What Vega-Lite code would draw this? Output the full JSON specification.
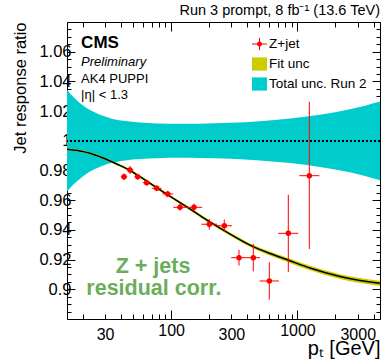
{
  "$schema": "https://vega.github.io/schema/vega-lite/v6.json",
  "width": 313,
  "height": 297,
  "autosize": {"type": "none"},
  "padding": {"left": 67, "top": 22, "right": 2, "bottom": 44},
  "background": "white",
  "config": {
    "font": "Liberation Sans",
    "view": {"stroke": null},
    "axis": {"grid": false, "domainColor": "black", "domainWidth": 1, "tickColor": "black", "tickWidth": 1, "labelColor": "black", "titleColor": "black", "labelFont": "Liberation Sans", "titleFont": "Liberation Sans", "zindex": 1},
    "legend": {"orient": "none", "padding": 0, "rowPadding": 5, "labelOffset": 2, "labelFontSize": 13.5, "labelFont": "Liberation Sans", "labelColor": "black", "labelLimit": 0, "symbolSize": 225, "symbolOpacity": 1}
  },
  "title": {"text": "Run 3 prompt, 8 fb⁻¹ (13.6 TeV)", "anchor": "end", "frame": "group", "fontSize": 14.5, "fontWeight": "normal", "font": "Liberation Sans", "color": "black", "baseline": "alphabetic", "offset": 9, "dy": 24},
  "datasets": {
    "band": [
      {"pt": 15, "lo": 0.9657, "hi": 1.0343},
      {"pt": 16.4, "lo": 0.9695, "hi": 1.0305},
      {"pt": 18, "lo": 0.9728, "hi": 1.0272},
      {"pt": 20.1, "lo": 0.9762, "hi": 1.0238},
      {"pt": 22.8, "lo": 0.9793, "hi": 1.0207},
      {"pt": 27.4, "lo": 0.9825, "hi": 1.0175},
      {"pt": 32.9, "lo": 0.9848, "hi": 1.0152},
      {"pt": 43.2, "lo": 0.9867, "hi": 1.0133},
      {"pt": 56.7, "lo": 0.9877, "hi": 1.0123},
      {"pt": 77.3, "lo": 0.9883, "hi": 1.0117},
      {"pt": 117.6, "lo": 0.9886, "hi": 1.0114},
      {"pt": 169.3, "lo": 0.9885, "hi": 1.0115},
      {"pt": 292.6, "lo": 0.9879, "hi": 1.0121},
      {"pt": 505, "lo": 0.9868, "hi": 1.0132},
      {"pt": 873, "lo": 0.985, "hi": 1.015},
      {"pt": 1508, "lo": 0.9824, "hi": 1.0176},
      {"pt": 2605, "lo": 0.9788, "hi": 1.0212},
      {"pt": 4500, "lo": 0.9735, "hi": 1.0265}
    ],
    "fit": [
      {"pt": 15, "y": 0.9943, "lo": 0.9936, "hi": 0.995},
      {"pt": 19, "y": 0.9931, "lo": 0.9924, "hi": 0.9938},
      {"pt": 22.8, "y": 0.9916, "lo": 0.9909, "hi": 0.9923},
      {"pt": 27.4, "y": 0.9893, "lo": 0.9886, "hi": 0.99},
      {"pt": 37.1, "y": 0.9844, "lo": 0.9836, "hi": 0.9852},
      {"pt": 47.3, "y": 0.98, "lo": 0.9792, "hi": 0.9808},
      {"pt": 56.7, "y": 0.9758, "lo": 0.975, "hi": 0.9766},
      {"pt": 74.6, "y": 0.9692, "lo": 0.9683, "hi": 0.9701},
      {"pt": 104, "y": 0.9613, "lo": 0.9604, "hi": 0.9622},
      {"pt": 141, "y": 0.9541, "lo": 0.9531, "hi": 0.9551},
      {"pt": 191, "y": 0.9467, "lo": 0.9457, "hi": 0.9477},
      {"pt": 293, "y": 0.9372, "lo": 0.9361, "hi": 0.9383},
      {"pt": 447, "y": 0.9287, "lo": 0.9275, "hi": 0.9299},
      {"pt": 606, "y": 0.9241, "lo": 0.9228, "hi": 0.9254},
      {"pt": 842, "y": 0.9197, "lo": 0.9183, "hi": 0.9211},
      {"pt": 1257, "y": 0.9143, "lo": 0.9128, "hi": 0.9158},
      {"pt": 2171, "y": 0.9086, "lo": 0.907, "hi": 0.9102},
      {"pt": 3125, "y": 0.9059, "lo": 0.9042, "hi": 0.9076},
      {"pt": 4500, "y": 0.904, "lo": 0.9022, "hi": 0.9058}
    ],
    "points": [
      {"pt": 42.4, "y": 0.9758, "xlo": 40, "xhi": 45, "ylo": 0.9736, "yhi": 0.978},
      {"pt": 47.3, "y": 0.9803, "xlo": 44.8, "xhi": 50.2, "ylo": 0.9776, "yhi": 0.983},
      {"pt": 54.4, "y": 0.9758, "xlo": 51.2, "xhi": 57.8, "ylo": 0.9738, "yhi": 0.9778},
      {"pt": 64.1, "y": 0.9718, "xlo": 59.6, "xhi": 68.9, "ylo": 0.9698, "yhi": 0.9738},
      {"pt": 76.9, "y": 0.968, "xlo": 70.2, "xhi": 84.2, "ylo": 0.9661, "yhi": 0.9699},
      {"pt": 94, "y": 0.9642, "xlo": 85.1, "xhi": 103.9, "ylo": 0.962, "yhi": 0.9664},
      {"pt": 117.6, "y": 0.9552, "xlo": 104, "xhi": 133, "ylo": 0.953, "yhi": 0.9574},
      {"pt": 151.8, "y": 0.9552, "xlo": 131, "xhi": 176, "ylo": 0.9527, "yhi": 0.9577},
      {"pt": 200.6, "y": 0.9438, "xlo": 174, "xhi": 231, "ylo": 0.9402, "yhi": 0.9474},
      {"pt": 263.6, "y": 0.9428, "xlo": 229, "xhi": 303, "ylo": 0.9386, "yhi": 0.947},
      {"pt": 344.7, "y": 0.9213, "xlo": 299, "xhi": 398, "ylo": 0.916, "yhi": 0.9266},
      {"pt": 447.2, "y": 0.9213, "xlo": 396, "xhi": 505, "ylo": 0.9121, "yhi": 0.9305},
      {"pt": 598.7, "y": 0.9056, "xlo": 502, "xhi": 714, "ylo": 0.893, "yhi": 0.9182},
      {"pt": 846.4, "y": 0.9377, "xlo": 705, "xhi": 1016, "ylo": 0.9117, "yhi": 0.9637},
      {"pt": 1240.7, "y": 0.9765, "xlo": 1034, "xhi": 1489, "ylo": 0.9271, "yhi": 1.0263}
    ],
    "notes": [
      {"t": "CMS"}, {"t": "Preliminary"}, {"t": "AK4 PUPPI"}, {"t": "|η| < 1.3"}, {"t": "Z + jets"}, {"t": "residual corr."}
    ]
  },
  "resolve": {"axis": {"x": "independent", "y": "independent"}},
  "layer": [
    {
      "data": {"name": "band"},
      "mark": {"type": "area", "interpolate": "monotone", "opacity": 1},
      "encoding": {
        "x": {"field": "pt", "type": "quantitative",
          "scale": {"type": "log", "domain": [15, 4500], "nice": false},
          "axis": {"orient": "bottom", "values": [20,30,40,50,60,70,80,90,100,200,300,400,500,600,700,800,900,1000,2000,3000,4000],
            "tickSize": {"condition": {"test": "datum.value == 100 || datum.value == 1000", "value": -9}, "value": -5},
            "labelExpr": "indexof([30,100,300,1000,3000], datum.value) >= 0 ? format(datum.value, 'd') : ''",
            "labelFontSize": 16, "labelPadding": 12, "labelOverlap": false, "labelFlush": false, "labelBound": false,
            "title": "pₜ [GeV]", "titleFontSize": 20, "titleFontWeight": "normal", "titleAnchor": "end", "titleAlign": "right", "titleBaseline": "alphabetic", "titleX": 313, "titleY": 35}},
        "y": {"field": "lo", "type": "quantitative",
          "scale": {"domain": [0.88, 1.08], "nice": false, "zero": false},
          "axis": {"orient": "left", "values": [0.88,0.885,0.89,0.895,0.9,0.905,0.91,0.915,0.92,0.925,0.93,0.935,0.94,0.945,0.95,0.955,0.96,0.965,0.97,0.975,0.98,0.985,0.99,0.995,1.0,1.005,1.01,1.015,1.02,1.025,1.03,1.035,1.04,1.045,1.05,1.055,1.06,1.065,1.07,1.075,1.08],
            "tickSize": {"condition": {"test": "abs(datum.value*50 - round(datum.value*50)) < 0.0001", "value": -8}, "value": -4},
            "labelExpr": "abs(datum.value*50 - round(datum.value*50)) < 0.0001 && datum.value > 0.89 && datum.value < 1.07 ? format(datum.value, '.2~f') : ''",
            "labelFontSize": 16.5, "labelPadding": 4, "labelOverlap": false, "labelFlush": false, "labelBound": false,
            "title": "Jet response ratio", "titleFontSize": 16.5, "titleFontWeight": "normal", "titleAngle": 270, "titleAlign": "right", "titleBaseline": "alphabetic", "titleX": -41.5, "titleY": 0}},
        "y2": {"field": "hi"},
        "color": {"datum": "Total unc. Run 2", "type": "nominal",
          "scale": {"domain": ["Fit unc", "Total unc. Run 2"], "range": ["#cccc00", "#00cccc"]},
          "legend": {"title": null, "legendX": 185, "legendY": 34.5, "symbolType": "M-1,-0.88H1V0.88H-1Z", "symbolStrokeWidth": 0, "symbolStrokeColor": "transparent"}}
      }
    },
    {
      "data": {"name": "band"},
      "mark": {"type": "rule", "color": "black", "strokeDash": [2, 2], "strokeWidth": 1.3},
      "encoding": {"y": {"datum": 1, "type": "quantitative", "axis": null, "scale": {"domain": [0.88, 1.08], "nice": false, "zero": false}}}
    },
    {
      "data": {"name": "fit"},
      "mark": {"type": "area", "interpolate": "monotone", "opacity": 1},
      "encoding": {
        "x": {"field": "pt", "type": "quantitative", "axis": null, "scale": {"type": "log", "domain": [15, 4500], "nice": false}},
        "y": {"field": "lo", "type": "quantitative", "axis": null, "scale": {"domain": [0.88, 1.08], "nice": false, "zero": false}},
        "y2": {"field": "hi"},
        "color": {"datum": "Fit unc", "type": "nominal",
          "legend": {"title": null, "legendX": 185, "legendY": 34.5, "symbolType": "M-1,-0.88H1V0.88H-1Z", "symbolStrokeWidth": 0, "symbolStrokeColor": "transparent"}}
      }
    },
    {
      "data": {"name": "fit"},
      "mark": {"type": "line", "interpolate": "monotone", "color": "black", "strokeWidth": 1.5},
      "encoding": {
        "x": {"field": "pt", "type": "quantitative", "scale": {"type": "log", "domain": [15, 4500], "nice": false},
          "axis": {"orient": "top", "values": [20,30,40,50,60,70,80,90,100,200,300,400,500,600,700,800,900,1000,2000,3000,4000],
            "tickSize": {"condition": {"test": "datum.value == 100 || datum.value == 1000", "value": -9}, "value": -5},
            "labels": false, "title": null}},
        "y": {"field": "y", "type": "quantitative", "scale": {"domain": [0.88, 1.08], "nice": false, "zero": false},
          "axis": {"orient": "right", "values": [0.88,0.885,0.89,0.895,0.9,0.905,0.91,0.915,0.92,0.925,0.93,0.935,0.94,0.945,0.95,0.955,0.96,0.965,0.97,0.975,0.98,0.985,0.99,0.995,1.0,1.005,1.01,1.015,1.02,1.025,1.03,1.035,1.04,1.045,1.05,1.055,1.06,1.065,1.07,1.075,1.08],
            "tickSize": {"condition": {"test": "abs(datum.value*50 - round(datum.value*50)) < 0.0001", "value": -8}, "value": -4},
            "labels": false, "title": null}}
      }
    },
    {
      "data": {"name": "points"},
      "mark": {"type": "rule", "color": "#ff0000", "strokeWidth": 1},
      "encoding": {
        "x": {"field": "xlo", "type": "quantitative", "axis": null, "scale": {"type": "log", "domain": [15, 4500], "nice": false}},
        "x2": {"field": "xhi"},
        "y": {"field": "y", "type": "quantitative", "axis": null, "scale": {"domain": [0.88, 1.08], "nice": false, "zero": false}}
      }
    },
    {
      "data": {"name": "points"},
      "mark": {"type": "rule", "color": "#ff0000", "strokeWidth": 1},
      "encoding": {
        "x": {"field": "pt", "type": "quantitative", "axis": null, "scale": {"type": "log", "domain": [15, 4500], "nice": false}},
        "y": {"field": "ylo", "type": "quantitative", "axis": null, "scale": {"domain": [0.88, 1.08], "nice": false, "zero": false}},
        "y2": {"field": "yhi"}
      }
    },
    {
      "data": {"name": "points"},
      "mark": {"type": "circle", "size": 30, "color": "#ff0000"},
      "encoding": {
        "x": {"field": "pt", "type": "quantitative", "axis": null, "scale": {"type": "log", "domain": [15, 4500], "nice": false}},
        "y": {"field": "y", "type": "quantitative", "axis": null, "scale": {"domain": [0.88, 1.08], "nice": false, "zero": false}},
        "opacity": {"datum": "Z+jet", "type": "ordinal", "scale": {"domain": ["Z+jet"], "range": [1, 1]},
          "legend": {"title": null, "legendX": 185, "legendY": 14.5,
            "symbolType": "M-1,-0.07H1V0.07H-1ZM-0.07,-0.8H0.07V0.8H-0.07ZM0.34,0A0.34,0.34,0,1,1,-0.34,0A0.34,0.34,0,1,1,0.34,0Z",
            "symbolFillColor": "#ff0000", "symbolStrokeColor": "#ff0000", "symbolStrokeWidth": 0}}
      }
    },
    {
      "data": {"name": "notes"},
      "transform": [{"filter": "datum.t === 'CMS'"}],
      "mark": {"type": "text", "align": "left", "baseline": "alphabetic", "font": "Liberation Sans", "fontWeight": "bold", "fontSize": 17, "color": "black"},
      "encoding": {
        "x": {"datum": 19.4, "type": "quantitative", "axis": null, "scale": {"type": "log", "domain": [15, 4500], "nice": false}},
        "y": {"datum": 1.0623, "type": "quantitative", "axis": null, "scale": {"domain": [0.88, 1.08], "nice": false, "zero": false}},
        "text": {"field": "t"}
      }
    },
    {
      "data": {"name": "notes"},
      "transform": [{"filter": "datum.t === 'Preliminary'"}],
      "mark": {"type": "text", "align": "left", "baseline": "alphabetic", "font": "Liberation Sans", "fontStyle": "italic", "fontSize": 13, "color": "black"},
      "encoding": {
        "x": {"datum": 19.4, "type": "quantitative", "axis": null, "scale": {"type": "log", "domain": [15, 4500], "nice": false}},
        "y": {"datum": 1.0502, "type": "quantitative", "axis": null, "scale": {"domain": [0.88, 1.08], "nice": false, "zero": false}},
        "text": {"field": "t"}
      }
    },
    {
      "data": {"name": "notes"},
      "transform": [{"filter": "datum.t === 'AK4 PUPPI'"}],
      "mark": {"type": "text", "align": "left", "baseline": "alphabetic", "font": "Liberation Sans", "fontSize": 13, "color": "black"},
      "encoding": {
        "x": {"datum": 19.4, "type": "quantitative", "axis": null, "scale": {"type": "log", "domain": [15, 4500], "nice": false}},
        "y": {"datum": 1.0387, "type": "quantitative", "axis": null, "scale": {"domain": [0.88, 1.08], "nice": false, "zero": false}},
        "text": {"field": "t"}
      }
    },
    {
      "data": {"name": "notes"},
      "transform": [{"filter": "datum.t === '|η| < 1.3'"}],
      "mark": {"type": "text", "align": "left", "baseline": "alphabetic", "font": "Liberation Sans", "fontSize": 13, "color": "black"},
      "encoding": {
        "x": {"datum": 19.4, "type": "quantitative", "axis": null, "scale": {"type": "log", "domain": [15, 4500], "nice": false}},
        "y": {"datum": 1.0279, "type": "quantitative", "axis": null, "scale": {"domain": [0.88, 1.08], "nice": false, "zero": false}},
        "text": {"field": "t"}
      }
    },
    {
      "data": {"name": "notes"},
      "transform": [{"filter": "datum.t === 'Z + jets'"}],
      "mark": {"type": "text", "align": "center", "baseline": "alphabetic", "font": "Liberation Sans", "fontWeight": "bold", "fontSize": 21.5, "color": "#6AAE5C"},
      "encoding": {
        "x": {"datum": 71.9, "type": "quantitative", "axis": null, "scale": {"type": "log", "domain": [15, 4500], "nice": false}},
        "y": {"datum": 0.9112, "type": "quantitative", "axis": null, "scale": {"domain": [0.88, 1.08], "nice": false, "zero": false}},
        "text": {"field": "t"}
      }
    },
    {
      "data": {"name": "notes"},
      "transform": [{"filter": "datum.t === 'residual corr.'"}],
      "mark": {"type": "text", "align": "center", "baseline": "alphabetic", "font": "Liberation Sans", "fontWeight": "bold", "fontSize": 21.5, "color": "#6AAE5C"},
      "encoding": {
        "x": {"datum": 73, "type": "quantitative", "axis": null, "scale": {"type": "log", "domain": [15, 4500], "nice": false}},
        "y": {"datum": 0.8962, "type": "quantitative", "axis": null, "scale": {"domain": [0.88, 1.08], "nice": false, "zero": false}},
        "text": {"field": "t"}
      }
    }
  ]
}
